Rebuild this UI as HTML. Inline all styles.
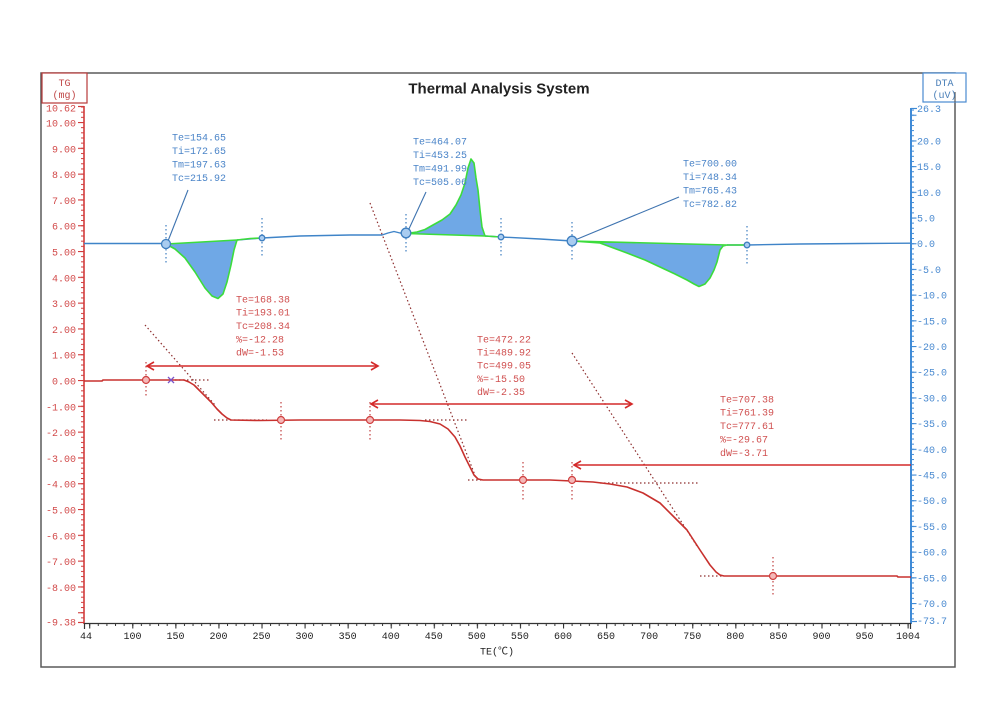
<!DOCTYPE html>
<html>
<head>
<meta charset="utf-8">
<style>
html,body{margin:0;padding:0;background:#fff;}
svg{display:block;}
.m{font-family:"Liberation Mono","Noto Sans CJK SC",monospace;font-size:10px;}
</style>
</head>
<body>
<svg width="1000" height="710" viewBox="0 0 1000 710" xmlns="http://www.w3.org/2000/svg">
<defs>
  <pattern id="pLmin" patternUnits="userSpaceOnUse" x="78" y="380" width="10" height="5.16">
    <line x1="3" y1="0.5" x2="6" y2="0.5" stroke="#d23c3c" stroke-width="1"/>
  </pattern>
  <pattern id="pLmaj" patternUnits="userSpaceOnUse" x="78" y="380" width="10" height="25.8">
    <line x1="0" y1="0.5" x2="6" y2="0.5" stroke="#d23c3c" stroke-width="1.2"/>
  </pattern>
  <pattern id="pRmin" patternUnits="userSpaceOnUse" x="911" y="243.2" width="10" height="5.14">
    <line x1="0" y1="0.5" x2="3" y2="0.5" stroke="#3f8ad6" stroke-width="1"/>
  </pattern>
  <pattern id="pRmaj" patternUnits="userSpaceOnUse" x="911" y="243.2" width="10" height="25.7">
    <line x1="0" y1="0.5" x2="5.5" y2="0.5" stroke="#3f8ad6" stroke-width="1.2"/>
  </pattern>
  <pattern id="pXmin" patternUnits="userSpaceOnUse" x="89.17" y="623" width="8.615" height="10">
    <line x1="0.5" y1="0" x2="0.5" y2="3" stroke="#333" stroke-width="1"/>
  </pattern>
  <pattern id="pXmaj" patternUnits="userSpaceOnUse" x="132.24" y="623" width="43.075" height="10">
    <line x1="0.5" y1="0" x2="0.5" y2="5.5" stroke="#333" stroke-width="1.2"/>
  </pattern>
</defs>

<rect width="1000" height="710" fill="#fff"/>

<rect x="41" y="73" width="914" height="594" fill="none" stroke="#5a5a5a" stroke-width="1.5"/>

<text x="499" y="93.5" text-anchor="middle" font-family="Liberation Sans, Arial, sans-serif" font-weight="bold" font-size="15" fill="#222">Thermal Analysis System</text>

<!-- left axis -->
<rect x="78" y="106" width="6" height="517" fill="url(#pLmin)"/>
<rect x="78" y="106" width="6" height="517" fill="url(#pLmaj)"/>
<line x1="78" y1="106.5" x2="84" y2="106.5" stroke="#d23c3c" stroke-width="1.2"/>
<line x1="78" y1="622.5" x2="84" y2="622.5" stroke="#d23c3c" stroke-width="1.2"/>
<line x1="84" y1="106" x2="84" y2="624" stroke="#d23c3c" stroke-width="1.6"/>
<g class="m" fill="#d24a4a" text-anchor="end">
<text x="76" y="111.5">10.62</text>
<text x="76" y="126.5">10.00</text>
<text x="76" y="152.3">9.00</text>
<text x="76" y="178.1">8.00</text>
<text x="76" y="203.9">7.00</text>
<text x="76" y="229.7">6.00</text>
<text x="76" y="255.5">5.00</text>
<text x="76" y="281.3">4.00</text>
<text x="76" y="307.1">3.00</text>
<text x="76" y="332.9">2.00</text>
<text x="76" y="358.7">1.00</text>
<text x="76" y="384.5">0.00</text>
<text x="76" y="410.3">-1.00</text>
<text x="76" y="436.1">-2.00</text>
<text x="76" y="461.9">-3.00</text>
<text x="76" y="487.7">-4.00</text>
<text x="76" y="513.5">-5.00</text>
<text x="76" y="539.3">-6.00</text>
<text x="76" y="565.1">-7.00</text>
<text x="76" y="590.9">-8.00</text>
<text x="76" y="625.5">-9.38</text>
</g>

<!-- TG box -->
<rect x="42" y="73" width="45" height="30" fill="#fff" stroke="#b83a3a" stroke-width="1.2"/>
<text class="m" x="64.5" y="86" text-anchor="middle" fill="#c04848" font-size="9.5">TG</text>
<text class="m" x="64.5" y="98" text-anchor="middle" fill="#c04848" font-size="9.5">(mg)</text>

<!-- right axis -->
<rect x="911" y="108" width="6" height="515" fill="url(#pRmin)"/>
<rect x="911" y="108" width="6" height="515" fill="url(#pRmaj)"/>
<line x1="911" y1="108.5" x2="917" y2="108.5" stroke="#3f8ad6" stroke-width="1.2"/>
<line x1="911" y1="621.5" x2="917" y2="621.5" stroke="#3f8ad6" stroke-width="1.2"/>
<line x1="911" y1="108" x2="911" y2="624" stroke="#3f8ad6" stroke-width="2"/>
<g class="m" fill="#4a8ad0">
<text x="917" y="112">26.3</text>
<text x="917" y="144.4">20.0</text>
<text x="917" y="170.1">15.0</text>
<text x="917" y="195.8">10.0</text>
<text x="917" y="221.5">5.0</text>
<text x="917" y="247.2">0.0</text>
<text x="917" y="272.9">-5.0</text>
<text x="917" y="298.6">-10.0</text>
<text x="917" y="324.3">-15.0</text>
<text x="917" y="350">-20.0</text>
<text x="917" y="375.7">-25.0</text>
<text x="917" y="401.4">-30.0</text>
<text x="917" y="427.1">-35.0</text>
<text x="917" y="452.8">-40.0</text>
<text x="917" y="478.5">-45.0</text>
<text x="917" y="504.2">-50.0</text>
<text x="917" y="529.9">-55.0</text>
<text x="917" y="555.6">-60.0</text>
<text x="917" y="581.3">-65.0</text>
<text x="917" y="607">-70.0</text>
<text x="917" y="624">-73.7</text>
</g>

<!-- DTA box -->
<rect x="923" y="73" width="43" height="29" fill="#fff" stroke="#4a8ad0" stroke-width="1.2"/>
<line x1="955" y1="92" x2="955" y2="102" stroke="#5a5a5a" stroke-width="1.2"/>
<text class="m" x="944.5" y="86" text-anchor="middle" fill="#4a7fb8" font-size="9.5">DTA</text>
<text class="m" x="944.5" y="98" text-anchor="middle" fill="#4a7fb8" font-size="9.5">(uV)</text>

<!-- x axis -->
<rect x="84" y="623" width="827" height="6" fill="url(#pXmin)"/>
<rect x="84" y="623" width="827" height="6" fill="url(#pXmaj)"/>
<line x1="84.5" y1="623" x2="84.5" y2="629" stroke="#333" stroke-width="1.2"/>
<line x1="910.5" y1="623" x2="910.5" y2="629" stroke="#333" stroke-width="1.2"/>
<line x1="84" y1="623.5" x2="911" y2="623.5" stroke="#333" stroke-width="1.3"/>
<g class="m" fill="#222" text-anchor="middle">
<text x="86" y="639">44</text>
<text x="132.5" y="639">100</text>
<text x="175.5" y="639">150</text>
<text x="218.5" y="639">200</text>
<text x="261.5" y="639">250</text>
<text x="304.5" y="639">300</text>
<text x="347.6" y="639">350</text>
<text x="390.7" y="639">400</text>
<text x="433.8" y="639">450</text>
<text x="476.8" y="639">500</text>
<text x="519.9" y="639">550</text>
<text x="563" y="639">600</text>
<text x="606" y="639">650</text>
<text x="649.1" y="639">700</text>
<text x="692.2" y="639">750</text>
<text x="735.3" y="639">800</text>
<text x="778.4" y="639">850</text>
<text x="821.5" y="639">900</text>
<text x="864.5" y="639">950</text>
<text x="908" y="639">1004</text>
<text x="497" y="654.5">TE(℃)</text>
</g>

<!-- DTA -->
<g fill="none" stroke="#3f84c8" stroke-width="1.4" stroke-linejoin="round">
  <polyline points="84,243.5 166,243.5"/>
  <polyline points="237,240 262,238 300,236 350,235 382,235 388,233 394,231.5 400,233 406,233"/>
  <polyline points="485,236 501,237 540,239 572,241"/>
  <polyline points="727,245 747,245 800,244 860,243.5 911,243.2"/>
</g>

<path d="M166,244 L175,249 L185,258 L195,272 L205,288 L212,296 L218,298.5 L223,294 L227,282 L231,265 L234,250 L237,240 Z" fill="#6fa8e6" stroke="#3cdc3c" stroke-width="1.6" stroke-linejoin="round"/>
<polyline points="237,240 250,238.5 262,238" fill="none" stroke="#3cdc3c" stroke-width="1.6"/>

<path d="M406,233.5 L417,232 L425,229.5 L433,225 L442,220 L450,214 L456,205 L461,195 L465,183 L468,168 L471,159 L474,163 L476,178 L478,190 L480,210 L482,227 L485,236 Z" fill="#6fa8e6" stroke="#3cdc3c" stroke-width="1.6" stroke-linejoin="round"/>
<polyline points="485,236 501,237" fill="none" stroke="#3cdc3c" stroke-width="1.6"/>

<path d="M572,241 L600,243 L627,253 L645,260 L660,267 L675,274 L687,280 L694,284 L699,286.5 L705,284 L710,278 L714,270 L717,262 L720,250 L723,246 L727,245 Z" fill="#6fa8e6" stroke="#3cdc3c" stroke-width="1.6" stroke-linejoin="round"/>
<polyline points="727,245 747,245" fill="none" stroke="#3cdc3c" stroke-width="1.6"/>

<g stroke="#3f7fc0" stroke-width="1.2" stroke-dasharray="1.5,2.5">
  <line x1="166" y1="225" x2="166" y2="264"/>
  <line x1="262" y1="218" x2="262" y2="258"/>
  <line x1="406" y1="214" x2="406" y2="253"/>
  <line x1="501" y1="218" x2="501" y2="258"/>
  <line x1="572" y1="222" x2="572" y2="262"/>
  <line x1="747" y1="226" x2="747" y2="265"/>
</g>

<g stroke="#3f74b0" stroke-width="1.1">
  <line x1="168" y1="241" x2="188" y2="190"/>
  <line x1="408" y1="231" x2="426" y2="192"/>
  <line x1="575" y1="240" x2="679" y2="197"/>
</g>

<g stroke="#3f7fc0" stroke-width="1.3" fill="#a9ccf0">
  <circle cx="166" cy="244" r="4.5"/>
  <circle cx="406" cy="233" r="4.8"/>
  <circle cx="572" cy="241" r="4.8"/>
  <circle cx="262" cy="238" r="2.8"/>
  <circle cx="501" cy="237" r="2.8"/>
  <circle cx="747" cy="245" r="2.8"/>
</g>

<g class="m" fill="#4a84c8">
  <text x="172" y="140.5">Te=154.65</text>
  <text x="172" y="154">Ti=172.65</text>
  <text x="172" y="167.5">Tm=197.63</text>
  <text x="172" y="181">Tc=215.92</text>
  <text x="413" y="144.5">Te=464.07</text>
  <text x="413" y="158">Ti=453.25</text>
  <text x="413" y="171.5">Tm=491.99</text>
  <text x="413" y="185">Tc=505.06</text>
  <text x="683" y="166.5">Te=700.00</text>
  <text x="683" y="180">Ti=748.34</text>
  <text x="683" y="193.5">Tm=765.43</text>
  <text x="683" y="207">Tc=782.82</text>
</g>

<!-- TG -->
<g stroke="#8e2f2f" stroke-width="1.2" stroke-dasharray="1.5,2.5" fill="none">
  <line x1="145" y1="325" x2="215" y2="405"/>
  <line x1="370" y1="203" x2="476" y2="478"/>
  <line x1="572" y1="353" x2="697" y2="546"/>
  <line x1="171" y1="380" x2="211" y2="380"/>
  <line x1="214" y1="420" x2="267" y2="420"/>
  <line x1="425" y1="420" x2="468" y2="420"/>
  <line x1="468" y1="480" x2="484" y2="480"/>
  <line x1="600" y1="483" x2="698" y2="483"/>
  <line x1="700" y1="576" x2="722" y2="576"/>
</g>
<g stroke="#c04040" stroke-width="1.2" stroke-dasharray="1.5,2.5">
  <line x1="146" y1="362" x2="146" y2="398"/>
  <line x1="281" y1="402" x2="281" y2="440"/>
  <line x1="370" y1="402" x2="370" y2="440"/>
  <line x1="523" y1="462" x2="523" y2="500"/>
  <line x1="572" y1="462" x2="572" y2="500"/>
  <line x1="773" y1="557" x2="773" y2="595"/>
</g>

<polyline fill="none" stroke="#c8312e" stroke-width="1.6" stroke-linejoin="round"
 points="84,381 102,381 103,380 184,380 189,382 194,385 200,391 205,396 211,402 217,409 222,414 227,418 231,420 260,420.5 300,420 400,420 420,420.5 430,421.5 440,424 448,429 455,437 460,446 465,457 470,467 474,475 478,479 483,480 550,480 593,482 610,484 627,487 643,493 660,503 677,520 687,530 700,550 710,565 716,572 720,575 724,576 897,576 898,577 911,577"/>

<g stroke="#d04040" stroke-width="1.2" fill="#f4b8b8">
  <circle cx="146" cy="380" r="3.5"/>
  <circle cx="281" cy="420" r="3.5"/>
  <circle cx="370" cy="420" r="3.5"/>
  <circle cx="523" cy="480" r="3.5"/>
  <circle cx="572" cy="480" r="3.5"/>
  <circle cx="773" cy="576" r="3.5"/>
</g>
<g stroke="#7a55c8" stroke-width="1.3">
  <line x1="168" y1="377" x2="174" y2="383"/>
  <line x1="168" y1="383" x2="174" y2="377"/>
</g>

<g stroke="#d42a2a" stroke-width="1.6" fill="none" stroke-linejoin="miter">
  <line x1="147" y1="366" x2="378" y2="366"/>
  <polyline points="154,362 147,366 154,370"/>
  <polyline points="371,362 378,366 371,370"/>
  <line x1="371" y1="404" x2="632" y2="404"/>
  <polyline points="378,400 371,404 378,408"/>
  <polyline points="625,400 632,404 625,408"/>
  <line x1="574" y1="465" x2="911" y2="465"/>
  <polyline points="581,461 574,465 581,469"/>
</g>

<g class="m" fill="#d05050">
  <text x="236" y="302.5">Te=168.38</text>
  <text x="236" y="315.5">Ti=193.01</text>
  <text x="236" y="329">Tc=208.34</text>
  <text x="236" y="342.5">%=-12.28</text>
  <text x="236" y="355.5">dW=-1.53</text>
  <text x="477" y="342.5">Te=472.22</text>
  <text x="477" y="355.5">Ti=489.92</text>
  <text x="477" y="368.5">Tc=499.05</text>
  <text x="477" y="382">%=-15.50</text>
  <text x="477" y="395">dW=-2.35</text>
  <text x="720" y="402.5">Te=707.38</text>
  <text x="720" y="415.5">Ti=761.39</text>
  <text x="720" y="429">Tc=777.61</text>
  <text x="720" y="442.5">%=-29.67</text>
  <text x="720" y="456">dW=-3.71</text>
</g>
</svg>
</body>
</html>
